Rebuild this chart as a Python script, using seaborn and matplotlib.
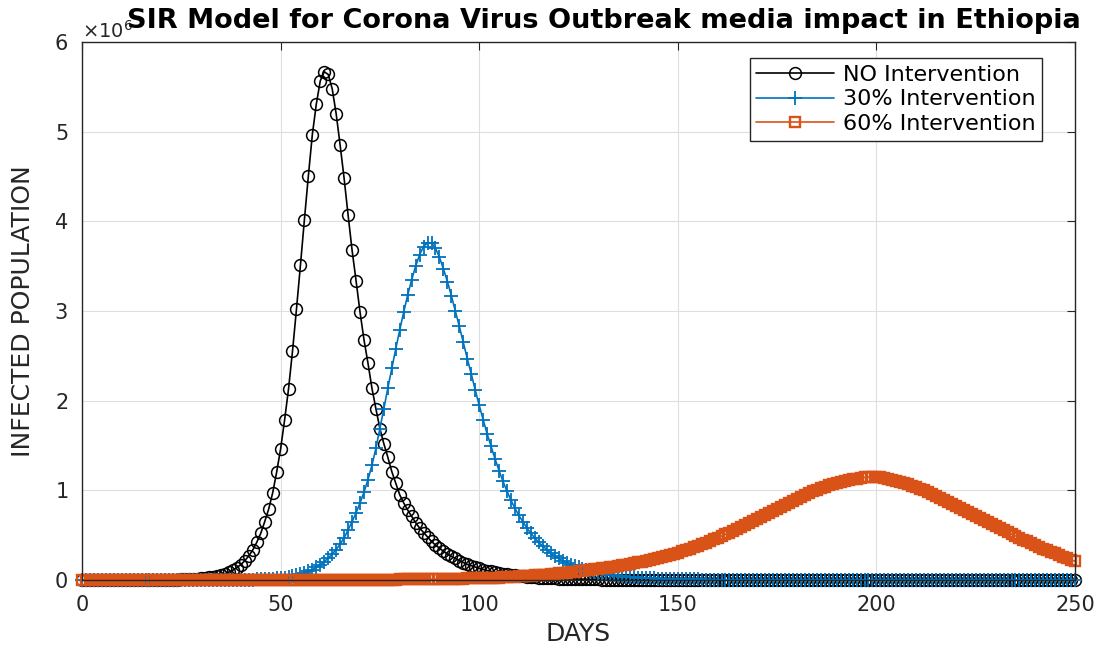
import numpy as np
import matplotlib
matplotlib.use("Agg")
import matplotlib.pyplot as plt
from matplotlib import ticker
import seaborn as sns

# Infected population per day, in millions.
days = np.arange(0, 251)

no_intervention = [
    # 0-9
    0.000, 0.000, 0.000, 0.000, 0.000, 0.000, 0.000, 0.000, 0.000, 0.000,
    # 10-19
    0.000, 0.000, 0.000, 0.001, 0.001, 0.001, 0.001, 0.001, 0.001, 0.002,
    # 20-29
    0.002, 0.003, 0.003, 0.004, 0.005, 0.006, 0.008, 0.010, 0.012, 0.015,
    # 30-39
    0.018, 0.023, 0.029, 0.036, 0.045, 0.056, 0.070, 0.088, 0.110, 0.138,
    # 40-49
    0.172, 0.215, 0.270, 0.335, 0.420, 0.520, 0.650, 0.790, 0.970, 1.200,
    # 50-59
    1.460, 1.780, 2.130, 2.550, 3.020, 3.510, 4.020, 4.510, 4.970, 5.310,
    # 60-69
    5.570, 5.670, 5.640, 5.480, 5.200, 4.850, 4.480, 4.070, 3.680, 3.340,
    # 70-79
    2.990, 2.680, 2.420, 2.140, 1.910, 1.690, 1.520, 1.370, 1.210, 1.080,
    # 80-89
    0.950, 0.860, 0.780, 0.710, 0.640, 0.580, 0.530, 0.480, 0.430, 0.390,
    # 90-99
    0.355, 0.320, 0.290, 0.265, 0.240, 0.215, 0.195, 0.175, 0.160, 0.145,
    # 100-109
    0.130, 0.117, 0.105, 0.095, 0.086, 0.077, 0.070, 0.063, 0.057, 0.051,
    # 110-119
    0.046, 0.041, 0.037, 0.033, 0.030, 0.027, 0.024, 0.022, 0.020, 0.018,
    # 120-129
    0.016, 0.014, 0.013, 0.012, 0.011, 0.010, 0.009, 0.008, 0.007, 0.006,
    # 130-139
    0.006, 0.005, 0.005, 0.004, 0.004, 0.003, 0.003, 0.003, 0.002, 0.002,
    # 140-149
    0.002, 0.002, 0.001, 0.001, 0.001, 0.001, 0.001, 0.001, 0.001, 0.001,
    # 150-159
    0.000, 0.000, 0.000, 0.000, 0.000, 0.000, 0.000, 0.000, 0.000, 0.000,
    # 160-169
    0.000, 0.000, 0.000, 0.000, 0.000, 0.000, 0.000, 0.000, 0.000, 0.000,
    # 170-179
    0.000, 0.000, 0.000, 0.000, 0.000, 0.000, 0.000, 0.000, 0.000, 0.000,
    # 180-189
    0.000, 0.000, 0.000, 0.000, 0.000, 0.000, 0.000, 0.000, 0.000, 0.000,
    # 190-199
    0.000, 0.000, 0.000, 0.000, 0.000, 0.000, 0.000, 0.000, 0.000, 0.000,
    # 200-209
    0.000, 0.000, 0.000, 0.000, 0.000, 0.000, 0.000, 0.000, 0.000, 0.000,
    # 210-219
    0.000, 0.000, 0.000, 0.000, 0.000, 0.000, 0.000, 0.000, 0.000, 0.000,
    # 220-229
    0.000, 0.000, 0.000, 0.000, 0.000, 0.000, 0.000, 0.000, 0.000, 0.000,
    # 230-239
    0.000, 0.000, 0.000, 0.000, 0.000, 0.000, 0.000, 0.000, 0.000, 0.000,
    # 240-249
    0.000, 0.000, 0.000, 0.000, 0.000, 0.000, 0.000, 0.000, 0.000, 0.000,
    # 250
    0.000,
]

intervention_30 = [
    # 0-9
    0.000, 0.000, 0.000, 0.000, 0.000, 0.000, 0.000, 0.000, 0.000, 0.000,
    # 10-19
    0.000, 0.000, 0.000, 0.000, 0.000, 0.000, 0.000, 0.000, 0.000, 0.000,
    # 20-29
    0.000, 0.000, 0.000, 0.000, 0.000, 0.001, 0.001, 0.001, 0.001, 0.001,
    # 30-39
    0.001, 0.001, 0.001, 0.001, 0.001, 0.001, 0.002, 0.002, 0.002, 0.002,
    # 40-49
    0.003, 0.003, 0.004, 0.005, 0.006, 0.008, 0.010, 0.012, 0.015, 0.018,
    # 50-59
    0.023, 0.028, 0.034, 0.042, 0.052, 0.064, 0.078, 0.095, 0.115, 0.140,
    # 60-69
    0.170, 0.205, 0.245, 0.290, 0.340, 0.400, 0.470, 0.560, 0.650, 0.750,
    # 70-79
    0.860, 0.980, 1.120, 1.280, 1.470, 1.690, 1.910, 2.140, 2.360, 2.580,
    # 80-89
    2.790, 2.990, 3.180, 3.350, 3.500, 3.630, 3.720, 3.760, 3.760, 3.700,
    # 90-99
    3.600, 3.470, 3.330, 3.170, 3.000, 2.830, 2.650, 2.470, 2.300, 2.120,
    # 100-109
    1.950, 1.790, 1.630, 1.490, 1.350, 1.220, 1.100, 0.990, 0.890, 0.800,
    # 110-119
    0.720, 0.650, 0.580, 0.520, 0.470, 0.420, 0.380, 0.340, 0.300, 0.270,
    # 120-129
    0.240, 0.215, 0.190, 0.170, 0.155, 0.140, 0.125, 0.110, 0.100, 0.090,
    # 130-139
    0.080, 0.072, 0.065, 0.058, 0.052, 0.047, 0.042, 0.038, 0.034, 0.030,
    # 140-149
    0.027, 0.024, 0.022, 0.020, 0.018, 0.016, 0.014, 0.013, 0.012, 0.011,
    # 150-159
    0.010, 0.009, 0.008, 0.007, 0.006, 0.006, 0.005, 0.005, 0.004, 0.004,
    # 160-169
    0.003, 0.003, 0.003, 0.002, 0.002, 0.002, 0.002, 0.001, 0.001, 0.001,
    # 170-179
    0.001, 0.001, 0.001, 0.001, 0.001, 0.000, 0.000, 0.000, 0.000, 0.000,
    # 180-189
    0.000, 0.000, 0.000, 0.000, 0.000, 0.000, 0.000, 0.000, 0.000, 0.000,
    # 190-199
    0.000, 0.000, 0.000, 0.000, 0.000, 0.000, 0.000, 0.000, 0.000, 0.000,
    # 200-209
    0.000, 0.000, 0.000, 0.000, 0.000, 0.000, 0.000, 0.000, 0.000, 0.000,
    # 210-219
    0.000, 0.000, 0.000, 0.000, 0.000, 0.000, 0.000, 0.000, 0.000, 0.000,
    # 220-229
    0.000, 0.000, 0.000, 0.000, 0.000, 0.000, 0.000, 0.000, 0.000, 0.000,
    # 230-239
    0.000, 0.000, 0.000, 0.000, 0.000, 0.000, 0.000, 0.000, 0.000, 0.000,
    # 240-249
    0.000, 0.000, 0.000, 0.000, 0.000, 0.000, 0.000, 0.000, 0.000, 0.000,
    # 250
    0.000,
]

intervention_60 = [
    # 0-9
    0.000, 0.000, 0.000, 0.000, 0.000, 0.000, 0.000, 0.000, 0.000, 0.000,
    # 10-19
    0.000, 0.000, 0.000, 0.000, 0.000, 0.000, 0.000, 0.000, 0.000, 0.000,
    # 20-29
    0.000, 0.000, 0.000, 0.000, 0.000, 0.000, 0.000, 0.000, 0.000, 0.000,
    # 30-39
    0.001, 0.001, 0.001, 0.001, 0.001, 0.001, 0.001, 0.001, 0.001, 0.001,
    # 40-49
    0.001, 0.001, 0.001, 0.001, 0.001, 0.001, 0.001, 0.001, 0.001, 0.001,
    # 50-59
    0.001, 0.001, 0.001, 0.001, 0.001, 0.001, 0.001, 0.002, 0.002, 0.002,
    # 60-69
    0.002, 0.002, 0.002, 0.002, 0.002, 0.002, 0.002, 0.003, 0.003, 0.003,
    # 70-79
    0.003, 0.003, 0.003, 0.004, 0.004, 0.004, 0.004, 0.005, 0.005, 0.005,
    # 80-89
    0.006, 0.006, 0.006, 0.007, 0.007, 0.008, 0.008, 0.009, 0.009, 0.010,
    # 90-99
    0.011, 0.011, 0.012, 0.013, 0.014, 0.015, 0.016, 0.017, 0.018, 0.019,
    # 100-109
    0.020, 0.022, 0.023, 0.025, 0.026, 0.028, 0.030, 0.032, 0.034, 0.037,
    # 110-119
    0.040, 0.042, 0.045, 0.048, 0.051, 0.054, 0.057, 0.061, 0.065, 0.069,
    # 120-129
    0.073, 0.077, 0.082, 0.087, 0.092, 0.097, 0.103, 0.108, 0.114, 0.119,
    # 130-139
    0.125, 0.131, 0.137, 0.143, 0.150, 0.157, 0.164, 0.172, 0.180, 0.188,
    # 140-149
    0.197, 0.206, 0.215, 0.225, 0.235, 0.246, 0.257, 0.269, 0.281, 0.293,
    # 150-159
    0.306, 0.320, 0.335, 0.350, 0.366, 0.382, 0.399, 0.416, 0.434, 0.452,
    # 160-169
    0.471, 0.490, 0.510, 0.530, 0.551, 0.572, 0.593, 0.615, 0.637, 0.659,
    # 170-179
    0.681, 0.703, 0.726, 0.749, 0.772, 0.795, 0.818, 0.841, 0.864, 0.886,
    # 180-189
    0.908, 0.929, 0.950, 0.970, 0.989, 1.007, 1.024, 1.040, 1.055, 1.069,
    # 190-199
    1.082, 1.094, 1.105, 1.115, 1.124, 1.132, 1.139, 1.144, 1.148, 1.150,
    # 200-209
    1.148, 1.144, 1.138, 1.130, 1.121, 1.110, 1.098, 1.084, 1.069, 1.053,
    # 210-219
    1.036, 1.018, 0.999, 0.979, 0.959, 0.938, 0.917, 0.896, 0.874, 0.852,
    # 220-229
    0.830, 0.807, 0.784, 0.761, 0.738, 0.715, 0.692, 0.669, 0.646, 0.623,
    # 230-239
    0.600, 0.578, 0.556, 0.534, 0.513, 0.492, 0.471, 0.450, 0.430, 0.410,
    # 240-249
    0.390, 0.370, 0.351, 0.332, 0.314, 0.296, 0.278, 0.261, 0.244, 0.227,
    # 250
    0.210,
]

SCALE = 1e6  # values above are in millions

# label, values, colour, marker, marker size, marker edge width
series = [
    ("NO Intervention", no_intervention, "#000000", "o", 8.5, 1.1),
    ("30% Intervention", intervention_30, "#0072BD", "+", 10.5, 1.3),
    ("60% Intervention", intervention_60, "#D95319", "s", 6.5, 1.7),
]

sns.set_theme(style="whitegrid")
plt.rcParams["font.family"] = ["DejaVu Sans"]
plt.rcParams["axes.edgecolor"] = "#262626"

fig = plt.figure(figsize=(10.97, 6.49), dpi=100)
ax = fig.add_axes([0.0747, 0.1063, 0.9053, 0.8287])

for label, values, color, marker, msize, mew in series:
    sns.lineplot(
        x=days, y=np.array(values) * SCALE, ax=ax,
        color=color, linewidth=1.2, label=label,
        marker=marker, markersize=msize,
        markerfacecolor="none", markeredgecolor=color, markeredgewidth=mew,
        clip_on=False,
    )

ax.set_xlim(0, 250)
ax.set_ylim(0, 6e6)
ax.set_xticks([0, 50, 100, 150, 200, 250])
ax.set_yticks(np.arange(0, 7) * 1e6)

fmt = ticker.ScalarFormatter(useMathText=True)
fmt.set_powerlimits((0, 0))
ax.yaxis.set_major_formatter(fmt)
ax.yaxis.get_offset_text().set_fontsize(14)
ax.yaxis.get_offset_text().set_color("#262626")

ax.tick_params(axis="both", direction="in", length=6, width=0.8,
               colors="#262626", labelsize=15, top=True, right=True)
ax.tick_params(axis="x", pad=11)
ax.tick_params(axis="y", pad=10)
for spine in ax.spines.values():
    spine.set_linewidth(1.0)
    spine.set_color("#262626")

ax.grid(True, color="#dedede", linewidth=0.8)
ax.set_axisbelow(True)

ax.set_xlabel("DAYS", fontsize=18, color="#262626")
ax.set_ylabel("INFECTED POPULATION", fontsize=18, color="#262626")
ax.xaxis.set_label_coords(0.5, -0.078)
ax.yaxis.set_label_coords(-0.047, 0.5)

# Fixed y so the title sits over the offset text as in the original.
ax.set_title("SIR Model for Corona Virus Outbreak media impact in Ethiopia",
             fontsize=19.5, fontweight="bold", color="black",
             x=0.526, y=1.027, pad=0)

handles, labels = ax.get_legend_handles_labels()
leg = ax.legend(handles, labels, loc="upper right",
                bbox_to_anchor=(0.967, 0.970), borderaxespad=0,
                fancybox=False, framealpha=1, edgecolor="#262626",
                fontsize=16, handlelength=3.5, handletextpad=0.4,
                labelspacing=0.2, borderpad=0.3)
leg.get_frame().set_linewidth(1.0)
for text in leg.get_texts():
    text.set_color("black")

fig.savefig("out.png", dpi=100, facecolor="white")
